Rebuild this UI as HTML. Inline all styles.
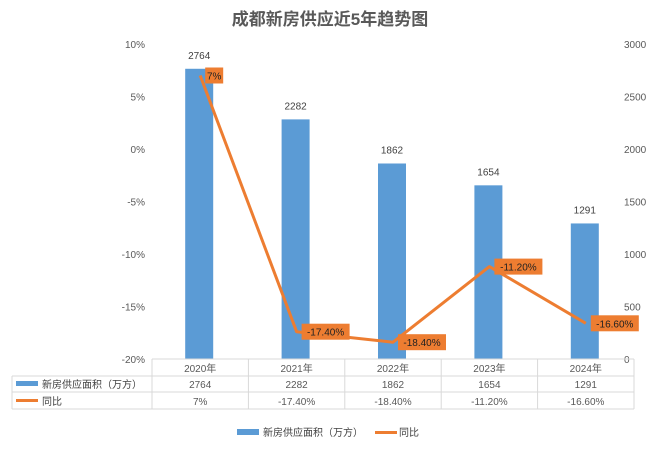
<!DOCTYPE html>
<html><head><meta charset="utf-8"><style>
body{margin:0;background:#fff;}
svg text{font-family:"Liberation Sans","Noto Sans CJK SC",sans-serif;}
</style></head><body>
<svg width="660" height="447" viewBox="0 0 660 447" id="c">
<text x="330" y="25" text-anchor="middle" font-size="17" font-weight="bold" fill="#595959">成都新房供应近5年趋势图</text>
</svg>
<script>
const categories=["2020年","2021年","2022年","2023年","2024年"];
const supply=[2764,2282,1862,1654,1291];
const yoy=[7,-17.4,-18.4,-11.2,-16.6];
const yoyLabels=["7%","-17.40%","-18.40%","-11.20%","-16.60%"];
const leftTicks=[10,5,0,-5,-10,-15,-20];
const rightTicks=[3000,2500,2000,1500,1000,500,0];
const svg=document.getElementById('c');
const NS='http://www.w3.org/2000/svg';
const X0=152,X1=634,Y0=44,Y1=359;
const bw=(X1-X0)/categories.length;
const xc=i=>X0+bw*(i+0.5);
const yR=v=>Y1-(v/3000)*(Y1-Y0);
const yL=v=>Y1-((v+20)/30)*(Y1-Y0);
function mk(t,a,txt){const e=document.createElementNS(NS,t);for(const k in a)e.setAttribute(k,a[k]);if(txt!=null)e.textContent=txt;svg.appendChild(e);return e;}
leftTicks.forEach(t=>{const e=mk('text',{x:145,y:yL(t)+4,'text-anchor':'end','font-size':10,fill:'#595959'},t+'%');

});
rightTicks.forEach(t=>{const e=mk('text',{x:624,y:yR(t)+4,'font-size':10,fill:'#595959'},t);

});
supply.forEach((v,i)=>{const b=mk('rect',{x:xc(i)-15,y:yR(v),width:28,height:Y1-yR(v),fill:'#5B9BD5'});


const l=mk('text',{x:xc(i)-1,y:yR(v)-10,'text-anchor':'middle','font-size':10,fill:'#404040'},v);

});
const pts=yoy.map((v,i)=>xc(i)+','+yL(v)).join(' ');
const line=mk('polyline',{points:pts,fill:'none',stroke:'#ED7D31','stroke-width':3,'stroke-linejoin':'round'});


yoy.forEach((v,i)=>{const w=yoyLabels[i].length*6+6;
const r=mk('rect',{x:xc(i)+5,y:yL(v)-8,width:w,height:16,fill:'#ED7D31'});


const t=mk('text',{x:xc(i)+5+w/2,y:yL(v)+4,'text-anchor':'middle','font-size':10,fill:'#222'},yoyLabels[i]);

});
// table
const g='#d9d9d9';
[[X0,Y1,X1,Y1],[12,376,X1,376],[12,392,X1,392],[12,409,X1,409],[12,376,12,409]].forEach(a=>{const l=mk('line',{x1:a[0],y1:a[1],x2:a[2],y2:a[3],stroke:g});

});
for(let i=0;i<=categories.length;i++){const l=mk('line',{x1:X0+bw*i,y1:Y1,x2:X0+bw*i,y2:409,stroke:g});

}
categories.forEach((c,i)=>{const a=mk('text',{x:xc(i),y:372,'text-anchor':'middle','font-size':10,fill:'#595959'},c);


const b=mk('text',{x:xc(i),y:388,'text-anchor':'middle','font-size':10,fill:'#595959'},supply[i]);


const d=mk('text',{x:xc(i),y:405,'text-anchor':'middle','font-size':10,fill:'#595959'},yoyLabels[i]);

});
let k=mk('rect',{x:16,y:381,width:22,height:5,fill:'#5B9BD5'});
k=mk('text',{x:42,y:388,'font-size':10,fill:'#404040'},'新房供应面积（万方）');
k=mk('rect',{x:16,y:399,width:22,height:3,fill:'#ED7D31'});
k=mk('text',{x:42,y:405,'font-size':10,fill:'#404040'},'同比');
// legend
k=mk('rect',{x:237,y:429,width:22,height:6,fill:'#5B9BD5'});
k=mk('text',{x:263,y:436,'font-size':10,fill:'#404040'},'新房供应面积（万方）');
k=mk('rect',{x:375,y:431,width:22,height:3,fill:'#ED7D31'});
k=mk('text',{x:399,y:436,'font-size':10,fill:'#404040'},'同比');
</script>
</body></html>
